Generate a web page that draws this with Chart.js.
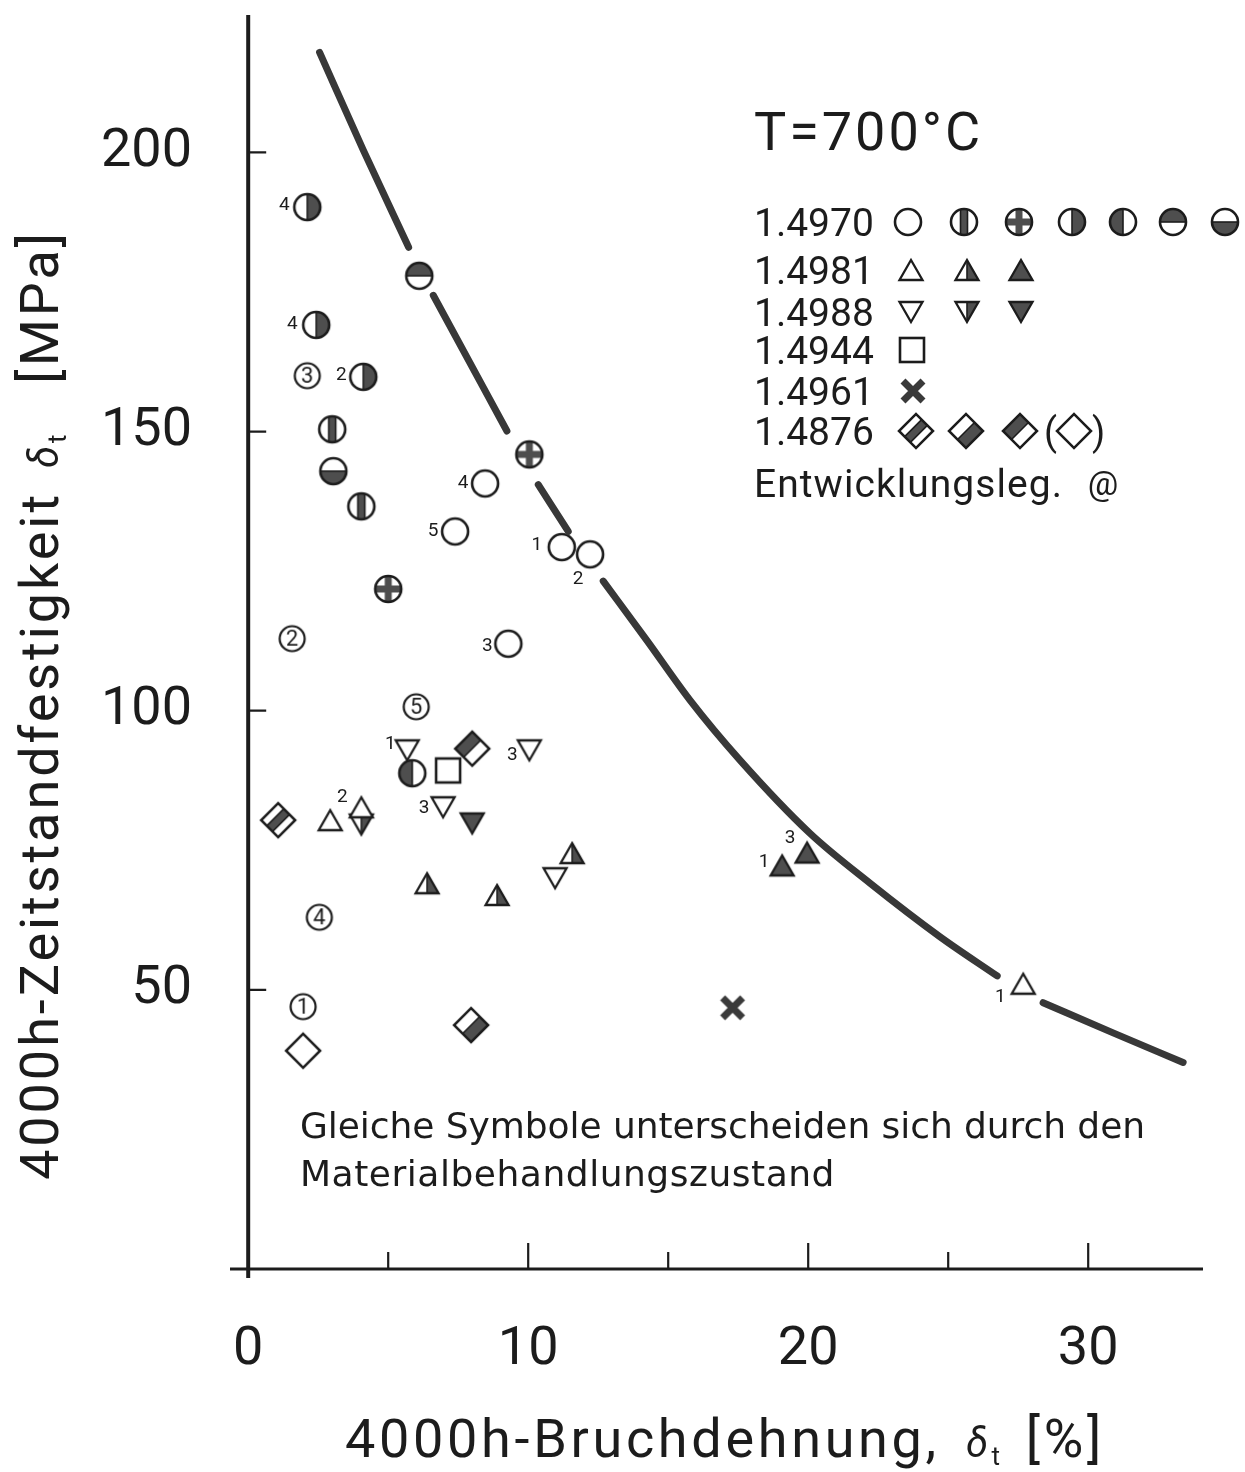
<!DOCTYPE html>
<html>
<head>
<meta charset="utf-8">
<script src="https://cdn.jsdelivr.net/npm/chart.js@4.4.1/dist/chart.umd.min.js"></script>
<style>
  html, body { margin: 0; padding: 0; background: #fff; }
  #wrap { width: 1245px; height: 1472px; }
</style>
</head>
<body>
<div id="wrap"><canvas id="chart" width="1245" height="1472"></canvas></div>
<script>
// ---------- data ----------
const xTicks = [0, 10, 20, 30];
const xMinorTicks = [5, 15, 25];
const yTicks = [50, 100, 150, 200];

const materials = ["1.4970", "1.4981", "1.4988", "1.4944", "1.4961", "1.4876"];

// 1.4970 – circles
const c4970Open = [[8.46, 140.7], [7.39, 132.1], [11.2, 129.3], [12.21, 128.0], [9.29, 112.0]];
const c4970OpenTags = ["4", "5", "1", "2", "3"];
const c4970Bar = [[3.0, 150.4], [4.04, 136.6]];
const c4970Cross = [[5.0, 121.8], [10.04, 145.9]];
const c4970Right = [[2.11, 190.2], [2.43, 169.1], [4.11, 159.8]];
const c4970RightTags = ["4", "4", "2"];
const c4970Left = [[5.86, 88.8]];
const c4970Top = [[6.11, 177.9]];
const c4970Bottom = [[3.04, 142.9]];

// 1.4981 – triangles up
const t4981Open = [[2.93, 80.4], [4.04, 82.7], [27.68, 51.1]];
const t4981OpenTags = ["", "2", "1"];
const t4981Half = [[6.39, 69.1], [8.89, 67.0], [11.57, 74.5]];
const t4981Full = [[19.07, 72.3], [19.96, 74.6]];
const t4981FullTags = ["1", "3"];

// 1.4988 – triangles down
const t4988Open = [[5.68, 92.9], [6.96, 82.7], [10.04, 92.9], [10.96, 70.0]];
const t4988OpenTags = ["1", "3", "3", ""];
const t4988Half = [[4.04, 79.6]];
const t4988Full = [[8.0, 79.8]];

// 1.4944 / 1.4961
const s4944 = [[7.14, 89.3]];
const x4961 = [[17.3, 46.8]];

// 1.4876 – diamonds
const d4876Band = [[1.07, 80.4]];
const d4876Low = [[7.96, 43.7]];
const d4876High = [[8.0, 93.2]];
const d4876Open = [[1.96, 39.1]];

// Entwicklungslegierungen (numbered circles)
const devAlloy = [[2.11, 160.0], [1.57, 112.9], [6.0, 100.7], [2.54, 63.0], [1.96, 47.0]];
const devAlloyNo = ["3", "2", "5", "4", "1"];

// trend curve, broken where symbols sit on it
const curveSeg1 = [[2.55, 217.9], [4.11, 200.4], [5.73, 183.0]];
const curveSeg2 = [[6.61, 174.4], [9.24, 150.1]];
const curveSeg3 = [[10.36, 140.5], [11.43, 132.1]];
const curveSeg4 = [[12.68, 123.2], [14.25, 112.5], [15.79, 101.8], [17.57, 91.1], [20.07, 78.0], [22.21, 69.1], [24.71, 59.5], [26.75, 52.5]];
const curveSeg5 = [[28.39, 47.7], [30.89, 42.3], [33.39, 37.0]];

// ---------- styles ----------
const INK = "#1c1c1c";
const HATCH = "#4e4e4e";
const FONT = 'Roboto, "Liberation Sans", sans-serif';
const NOTE_FONT = '"DejaVu Sans", Roboto, sans-serif';

// where the little sample numbers sit, relative to the symbol (px)
const tagShift = {
  c4970Open: [[-22, 0], [-22, 0], [-25, -2], [-12, 25], [-21, 3]],
  c4970Right: [[-23, -2], [-24, -1], [-22, -2]],
  t4981Open: [null, [-19, -10], [-23, 14]],
  t4981Full: [[-18, -3], [-17, -14]],
  t4988Open: [[-17, -6], [-19, 1], [-17, 5], null]
};

function makeSymbol(kind, txt) {
  const S = 44;
  const c = document.createElement("canvas");
  c.width = S; c.height = S;
  const g = c.getContext("2d");
  g.translate(S / 2, S / 2);
  g.lineWidth = 2.6;
  g.strokeStyle = INK;
  g.fillStyle = "#fff";
  g.lineJoin = "miter";
  const R = 13;
  const circ = (r) => { g.beginPath(); g.arc(0, 0, r, 0, Math.PI * 2); };

  if (kind.startsWith("circle")) {
    circ(R); g.fill();
    g.save(); circ(R); g.clip();
    g.fillStyle = HATCH;
    if (kind === "circle-bar") g.fillRect(-3.5, -R, 7, 2 * R);
    if (kind === "circle-cross") { g.fillRect(-3.5, -R, 7, 2 * R); g.fillRect(-R, -3.5, 2 * R, 7); }
    if (kind === "circle-right") g.fillRect(0, -R, R, 2 * R);
    if (kind === "circle-left") g.fillRect(-R, -R, R, 2 * R);
    if (kind === "circle-top") g.fillRect(-R, -R, 2 * R, R);
    if (kind === "circle-bottom") g.fillRect(-R, 0, 2 * R, R);
    g.restore();
    g.beginPath();
    g.lineWidth = 1.6;
    if (kind === "circle-bar") { g.moveTo(-3.5, -12.5); g.lineTo(-3.5, 12.5); g.moveTo(3.5, -12.5); g.lineTo(3.5, 12.5); }
    if (kind === "circle-right" || kind === "circle-left") { g.moveTo(0, -R); g.lineTo(0, R); }
    if (kind === "circle-top" || kind === "circle-bottom") { g.moveTo(-R, 0); g.lineTo(R, 0); }
    g.stroke();
    g.lineWidth = 2.6;
    circ(R); g.stroke();
  } else if (kind === "dev") {
    g.lineWidth = 2.2;
    circ(12.5); g.fill(); g.stroke();
    g.fillStyle = INK;
    g.font = `22px ${FONT}`;
    g.textAlign = "center";
    g.textBaseline = "middle";
    g.fillText(txt, 0, 1);
  } else if (kind.startsWith("tri")) {
    const w = 23, h = 20;
    const up = kind.startsWith("triup");
    const s = up ? 1 : -1;
    g.lineWidth = 2.3;
    g.beginPath();
    g.moveTo(0, -s * h / 2); g.lineTo(w / 2, s * h / 2); g.lineTo(-w / 2, s * h / 2); g.closePath();
    g.fillStyle = kind.endsWith("full") ? HATCH : "#fff";
    g.fill();
    if (kind.endsWith("half")) {
      g.beginPath();
      g.moveTo(0, -s * h / 2); g.lineTo(w / 2, s * h / 2); g.lineTo(0, s * h / 2); g.closePath();
      g.fillStyle = HATCH; g.fill();
      g.beginPath(); g.moveTo(0, -s * h / 2); g.lineTo(0, s * h / 2);
      g.lineWidth = 1.6; g.stroke(); g.lineWidth = 2.3;
    }
    g.beginPath();
    g.moveTo(0, -s * h / 2); g.lineTo(w / 2, s * h / 2); g.lineTo(-w / 2, s * h / 2); g.closePath();
    g.stroke();
  } else if (kind === "square") {
    g.fillRect(-12, -12, 24, 24);
    g.strokeRect(-12, -12, 24, 24);
  } else if (kind === "cross") {
    g.strokeStyle = "#3a3a3a";
    g.lineWidth = 7;
    g.lineCap = "butt";
    g.beginPath();
    g.moveTo(-10, -10); g.lineTo(10, 10);
    g.moveTo(-10, 10); g.lineTo(10, -10);
    g.stroke();
  } else if (kind.startsWith("diamond")) {
    const s = 24;
    g.rotate(Math.PI / 4);
    g.fillRect(-s / 2, -s / 2, s, s);
    g.fillStyle = HATCH;
    g.lineWidth = 1.6;
    if (kind === "diamond-band") {
      g.fillRect(-4, -s / 2, 8, s);
      g.beginPath(); g.moveTo(-4, -s / 2); g.lineTo(-4, s / 2); g.moveTo(4, -s / 2); g.lineTo(4, s / 2); g.stroke();
    }
    if (kind === "diamond-low") {
      g.fillRect(0, -s / 2, s / 2, s);
      g.beginPath(); g.moveTo(0, -s / 2); g.lineTo(0, s / 2); g.stroke();
    }
    if (kind === "diamond-high") {
      g.fillRect(-s / 2, -s / 2, s / 2, s);
      g.beginPath(); g.moveTo(0, -s / 2); g.lineTo(0, s / 2); g.stroke();
    }
    g.lineWidth = 2.6;
    g.strokeRect(-s / 2, -s / 2, s, s);
  }
  return c;
}

const SYM = {};
["circle-open", "circle-bar", "circle-cross", "circle-right", "circle-left", "circle-top", "circle-bottom",
 "triup-open", "triup-half", "triup-full", "tridown-open", "tridown-half", "tridown-full",
 "square", "cross", "diamond-band", "diamond-low", "diamond-high", "diamond-open"].forEach((k) => { SYM[k] = makeSymbol(k); });

const pts = (arr) => arr.map(([x, y]) => ({ x, y }));

function symSet(label, arr, kind, tags, shift) {
  return {
    type: "scatter",
    label,
    data: pts(arr),
    pointStyle: SYM[kind],
    pointRadius: 14,
    pointHoverRadius: 14,
    clip: false,
    tags: tags || null,
    shift: shift || null
  };
}

function curveSet(seg) {
  return {
    type: "line",
    label: "Trend",
    data: pts(seg),
    borderColor: "#383838",
    borderWidth: 7,
    borderCapStyle: "round",
    pointRadius: 0,
    pointHoverRadius: 0,
    tension: 0.4,
    cubicInterpolationMode: "monotone",
    fill: false,
    clip: false
  };
}

const datasets = [
  curveSet(curveSeg1), curveSet(curveSeg2), curveSet(curveSeg3), curveSet(curveSeg4), curveSet(curveSeg5),
  symSet(materials[0], c4970Open, "circle-open", c4970OpenTags, tagShift.c4970Open),
  symSet(materials[0], c4970Bar, "circle-bar"),
  symSet(materials[0], c4970Cross, "circle-cross"),
  symSet(materials[0], c4970Right, "circle-right", c4970RightTags, tagShift.c4970Right),
  symSet(materials[0], c4970Left, "circle-left"),
  symSet(materials[0], c4970Top, "circle-top"),
  symSet(materials[0], c4970Bottom, "circle-bottom"),
  symSet(materials[1], t4981Open, "triup-open", t4981OpenTags, tagShift.t4981Open),
  symSet(materials[1], t4981Half, "triup-half"),
  symSet(materials[1], t4981Full, "triup-full", t4981FullTags, tagShift.t4981Full),
  symSet(materials[2], t4988Open, "tridown-open", t4988OpenTags, tagShift.t4988Open),
  symSet(materials[2], t4988Half, "tridown-half"),
  symSet(materials[2], t4988Full, "tridown-full"),
  symSet(materials[3], s4944, "square"),
  symSet(materials[4], x4961, "cross"),
  symSet(materials[5], d4876Band, "diamond-band"),
  symSet(materials[5], d4876Low, "diamond-low"),
  symSet(materials[5], d4876High, "diamond-high"),
  symSet(materials[5], d4876Open, "diamond-open"),
  {
    type: "scatter",
    label: "Entwicklungsleg.",
    data: pts(devAlloy),
    pointStyle: devAlloyNo.map((n) => makeSymbol("dev", n)),
    pointRadius: 13,
    clip: false
  }
];

// legend layout (pixel positions of the printed key)
const legendRows = [
  { y: 222, items: [["circle-open", 908], ["circle-bar", 964], ["circle-cross", 1019], ["circle-right", 1072], ["circle-left", 1123], ["circle-top", 1173], ["circle-bottom", 1225]] },
  { y: 270, items: [["triup-open", 911], ["triup-half", 967], ["triup-full", 1021]] },
  { y: 312, items: [["tridown-open", 911], ["tridown-half", 967], ["tridown-full", 1021]] },
  { y: 350, items: [["square", 912]] },
  { y: 391, items: [["cross", 913]] },
  { y: 431, items: [["diamond-band", 916], ["diamond-low", 966], ["diamond-high", 1020], ["diamond-open", 1074]] }
];

// text with its pieces stretched to a given overall width
function drawRich(ctx, pieces, x, y, target) {
  let natural = 0, n = 0;
  pieces.forEach((p) => {
    if (p.t) { ctx.font = p.font; ctx.letterSpacing = "0px"; p.w = ctx.measureText(p.t).width; natural += p.w; n += p.t.length; }
    else natural += p.gap;
  });
  const ls = target ? (target - natural) / n : 0;
  let cx = x;
  pieces.forEach((p) => {
    if (!p.t) { cx += p.gap; return; }
    ctx.font = p.font;
    ctx.letterSpacing = ls + "px";
    ctx.fillText(p.t, cx, y + (p.dy || 0));
    cx += p.w + ls * p.t.length;
  });
  ctx.letterSpacing = "0px";
}

const decor = {
  id: "decor",
  beforeDatasetsDraw(chart) {
    const { ctx, chartArea, scales } = chart;
    const xs = scales.x, ys = scales.y;
    const x0 = xs.getPixelForValue(0), y0 = ys.getPixelForValue(0);
    ctx.save();
    ctx.strokeStyle = INK;
    ctx.lineCap = "butt";
    // axes
    ctx.lineWidth = 4;
    ctx.beginPath(); ctx.moveTo(x0, chartArea.top); ctx.lineTo(x0, chartArea.bottom); ctx.stroke();
    ctx.lineWidth = 3;
    ctx.beginPath(); ctx.moveTo(chartArea.left, y0); ctx.lineTo(chartArea.right, y0); ctx.stroke();
    // ticks
    ctx.lineWidth = 2.2;
    ctx.beginPath();
    yTicks.forEach((v) => { const py = ys.getPixelForValue(v); ctx.moveTo(x0, py); ctx.lineTo(x0 + 18, py); });
    xTicks.filter((v) => v !== 0).forEach((v) => { const px = xs.getPixelForValue(v); ctx.moveTo(px, y0); ctx.lineTo(px, y0 - 26); });
    xMinorTicks.forEach((v) => { const px = xs.getPixelForValue(v); ctx.moveTo(px, y0); ctx.lineTo(px, y0 - 17); });
    ctx.stroke();
    ctx.restore();
  },
  afterDatasetsDraw(chart) {
    const { ctx } = chart;
    ctx.save();
    ctx.fillStyle = INK;

    // sample numbers next to symbols
    ctx.font = `19px ${FONT}`;
    ctx.textAlign = "center";
    ctx.textBaseline = "middle";
    chart.data.datasets.forEach((ds, i) => {
      if (!ds.tags) return;
      const meta = chart.getDatasetMeta(i);
      ds.tags.forEach((t, j) => {
        if (!t || !ds.shift[j]) return;
        const el = meta.data[j];
        ctx.fillText(t, el.x + ds.shift[j][0], el.y + ds.shift[j][1]);
      });
    });

    // key
    ctx.textAlign = "left";
    ctx.textBaseline = "alphabetic";
    drawRich(ctx, [{ t: "T=700°C", font: `54px ${FONT}` }], 754, 150, 229);
    legendRows.forEach((row, i) => {
      ctx.font = `39px ${FONT}`;
      ctx.fillText(materials[i], 754, row.y + 14);
      row.items.forEach(([k, x]) => {
        const img = SYM[k];
        ctx.drawImage(img, x - img.width / 2, row.y - img.height / 2);
      });
    });
    ctx.font = `38px ${FONT}`;
    ctx.fillText("(", 1044, 431 + 14);
    ctx.fillText(")", 1092, 431 + 14);
    drawRich(ctx, [{ t: "Entwicklungsleg.", font: `39px ${FONT}` }], 754, 497, 309);
    ctx.font = `34px ${FONT}`;
    ctx.textAlign = "center";
    ctx.fillText("@", 1103, 495);

    // note
    ctx.textAlign = "left";
    drawRich(ctx, [{ t: "Gleiche Symbole unterscheiden sich durch den", font: `36px ${NOTE_FONT}` }], 300, 1138, 845);
    drawRich(ctx, [{ t: "Materialbehandlungszustand", font: `36px ${NOTE_FONT}` }], 300, 1186, 535);

    // axis titles
    drawRich(ctx, [
      { t: "4000h-Bruchdehnung,", font: `54px ${FONT}` },
      { gap: 26 },
      { t: "δ", font: `italic 40px ${FONT}` },
      { t: "t", font: `26px ${FONT}`, dy: 8 },
      { gap: 22 },
      { t: "[%]", font: `54px ${FONT}` }
    ], 345, 1457, 760);

    ctx.translate(58, 1180);
    ctx.rotate(-Math.PI / 2);
    drawRich(ctx, [
      { t: "4000h-Zeitstandfestigkeit", font: `54px ${FONT}` },
      { gap: 24 },
      { t: "δ", font: `italic 40px ${FONT}` },
      { t: "t", font: `26px ${FONT}`, dy: 8 },
      { gap: 48 },
      { t: "[MPa]", font: `54px ${FONT}` }
    ], 0, 0, 950);
    ctx.restore();
  }
};

// keep Chart.js from reserving room for half a tick label at the axis ends
function noEndPadding(s) {
  s.paddingTop = 0; s.paddingBottom = 0; s.paddingLeft = 0; s.paddingRight = 0;
}

new Chart(document.getElementById("chart"), {
  type: "scatter",
  data: { datasets },
  options: {
    responsive: false,
    animation: false,
    devicePixelRatio: 1,
    layout: { padding: { left: 0, right: 42, top: 12, bottom: 0 } },
    plugins: { legend: { display: false }, tooltip: { enabled: false } },
    scales: {
      x: {
        type: "linear",
        min: -0.65,
        max: 34.1,
        afterBuildTicks: (s) => { s.ticks = xTicks.map((v) => ({ value: v })); },
        afterFit: (s) => { s.height = 194; noEndPadding(s); },
        grid: { display: false, drawTicks: false },
        border: { display: false },
        ticks: { color: INK, font: { family: FONT, size: 54 }, padding: 40, maxRotation: 0, autoSkip: false, callback: (v) => String(v) }
      },
      y: {
        type: "linear",
        min: -1.6,
        max: 224.6,
        afterBuildTicks: (s) => { s.ticks = yTicks.map((v) => ({ value: v })); },
        afterFit: (s) => { s.width = 230; noEndPadding(s); },
        grid: { display: false, drawTicks: false },
        border: { display: false },
        ticks: { color: INK, font: { family: FONT, size: 54 }, padding: 38, autoSkip: false, callback: (v) => String(v) }
      }
    }
  },
  plugins: [decor]
});
</script>
</body>
</html>
